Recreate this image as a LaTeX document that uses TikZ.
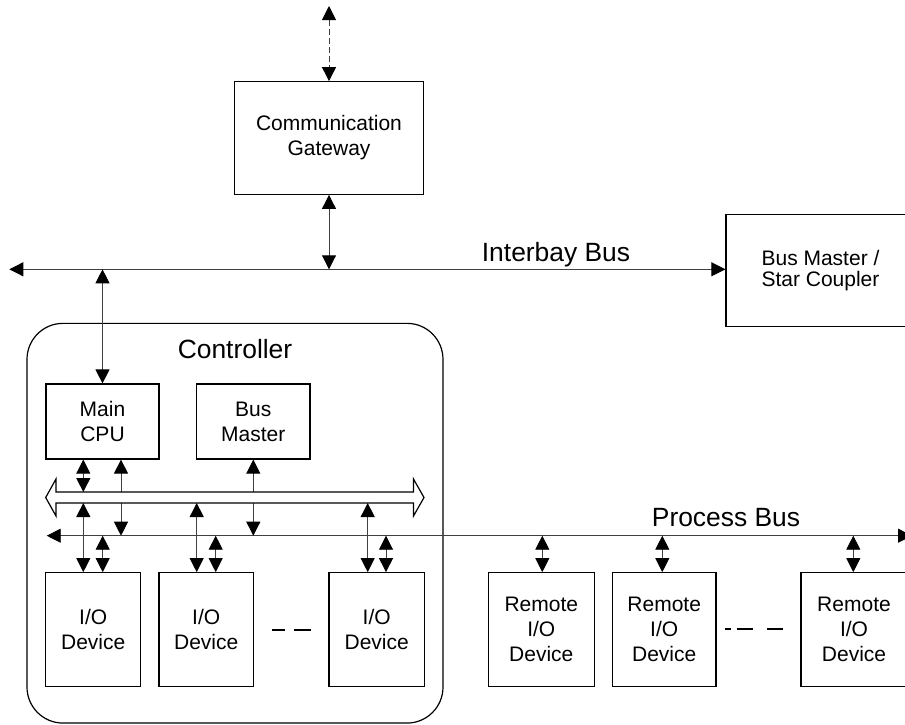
\documentclass[tikz,border=0pt]{standalone}
\usepackage{fontspec}
\setmainfont{Liberation Sans}
\usetikzlibrary{arrows.meta}

\newcommand\dgboxfont{\fontsize{21}{25}\selectfont}
\newcommand\dgtightfont{\fontsize{21}{21}\selectfont}
\newcommand\dglabelfont{\fontsize{26.4}{30}\selectfont}

\begin{document}
\begin{tikzpicture}[x=1pt,y=-1pt,
  box/.style={draw, line width=1.2pt, fill=white, align=center,
    font=\dgboxfont, inner sep=0pt},
  link/.style={draw=black!75, line width=0.9pt,
    {Triangle[length=14pt,width=14pt,color=black]}-{Triangle[length=14pt,width=14pt,color=black]}},
  buslabel/.style={font=\dglabelfont, inner sep=0pt, anchor=base},
  gapdash/.style={line width=1.2pt}]

\clip (0,0) rectangle (905,724);

% controller enclosure
\node[draw, line width=1.2pt, rounded corners=36pt, minimum width=416pt,
  minimum height=399.7pt, inner sep=0pt] (ctrl) at (235,523.2) {};
\node[buslabel] (ctrllabel) at (235,358) {Controller};

% boxes
\node[box, minimum width=189.7pt, minimum height=112.6pt] (gw) at (329,138) {Communication\\Gateway};
\node[box, font=\dgtightfont, minimum width=189pt, minimum height=112.7pt] (bmsc) at (820.5,270.5) {Bus Master /\\Star Coupler};
\node[box, minimum width=113pt, minimum height=75pt] (cpu) at (102.5,421.5) {Main\\CPU};
\node[box, minimum width=113.3pt, minimum height=75pt] (bm) at (253.3,421.5) {Bus\\Master};
\node[box, minimum width=95pt, minimum height=114pt] (io1) at (93.2,629.7) {I/O\\Device};
\node[box, minimum width=94.3pt, minimum height=114pt] (io2) at (206.2,629.7) {I/O\\Device};
\node[box, minimum width=95.3pt, minimum height=114pt] (io3) at (376.7,629.7) {I/O\\Device};
\node[box, minimum width=106pt, minimum height=114pt] (r1) at (541.3,629.7) {Remote\\I/O\\Device};
\node[box, minimum width=103.7pt, minimum height=114pt] (r2) at (664.2,629.7) {Remote\\I/O\\Device};
\node[box, minimum width=106pt, minimum height=114pt] (r3) at (854,629.7) {Remote\\I/O\\Device};

% bus reference points
\coordinate (ib) at (0,269.3);
\coordinate (ibL) at (9.3,269.3);
\coordinate (pb) at (0,535.7);
\coordinate (pbL) at (46.7,535.7);
\coordinate (pbR) at (912,535.7);
\coordinate (wbt) at (0,492);
\coordinate (wbb) at (0,503);
\coordinate (top) at (329,6);

% interbay bus
\draw[link] (ibL) -- (bmsc.west |- ib);
\node[buslabel] (iblabel) at (556,261.5) {Interbay Bus};
\draw[link, dashed, dash pattern=on 6pt off 3pt] (top) -- (gw.north);
\draw[link] (gw.south) -- (gw.south |- ib);
\draw[link] (cpu.north |- ib) -- (cpu.north);

% process bus
\draw[link] (pbL) -- (pbR);
\node[buslabel] (pblabel) at (726,526) {Process Bus};

% taps from CPU and bus master to the process bus (under the wide bus)
\draw[link] (cpu.south -| 121,0) -- (pb -| 121,0);
\draw[link] (bm.south) -- (bm.south |- pb);

% wide internal bus
\draw[line width=1.2pt, fill=white]
  (45.7,497.5) -- (56,479) -- (56,492) -- (413.5,492) -- (413.5,479)
  -- (424,497.5) -- (413.5,516) -- (413.5,503) -- (56,503) -- (56,516) -- cycle;

% CPU to wide bus
\draw[link] (cpu.south -| 83.3,0) -- (wbt -| 83.3,0);

% wide bus to I/O devices
\draw[link] (wbb -| 83.3,0) -- (io1.north -| 83.3,0);
\draw[link] (wbb -| 196.7,0) -- (io2.north -| 196.7,0);
\draw[link] (wbb -| 367.7,0) -- (io3.north -| 367.7,0);

% process bus to I/O devices
\draw[link] (pb -| 102.7,0) -- (io1.north -| 102.7,0);
\draw[link] (pb -| 215.7,0) -- (io2.north -| 215.7,0);
\draw[link] (pb -| 386,0) -- (io3.north -| 386,0);

% process bus to remote I/O
\draw[link] (pb -| 542.3,0) -- (r1.north -| 542.3,0);
\draw[link] (pb -| 662.3,0) -- (r2.north -| 662.3,0);
\draw[link] (pb -| 853.3,0) -- (r3.north -| 853.3,0);

% ellipsis dashes
\draw[gapdash] (271.7,630) -- (285,630);
\draw[gapdash] (294,630) -- (310.7,630);
\draw[gapdash] (725,629) -- (730.7,629);
\draw[gapdash] (736.7,629) -- (753.3,629);
\draw[gapdash] (766.7,629) -- (783.3,629);
\end{tikzpicture}
\end{document}
